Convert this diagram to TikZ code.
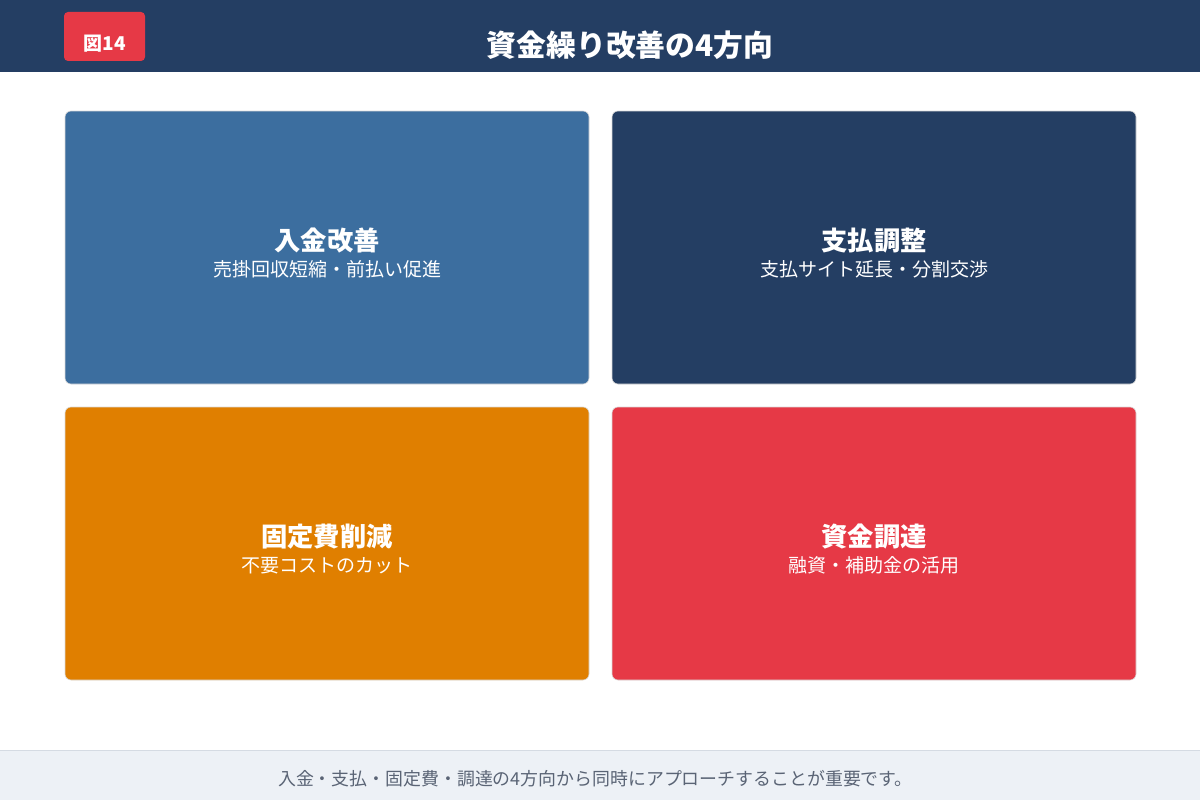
\documentclass[tikz,border=0pt]{standalone}
\usepackage{fontspec}
\setmainfont{Noto Sans CJK JP}
\definecolor{navy}{HTML}{243E63}
\definecolor{steel}{HTML}{3C6E9F}
\definecolor{orng}{HTML}{E07F00}
\definecolor{redc}{HTML}{E63946}
\definecolor{footbg}{HTML}{EDF1F6}
\definecolor{footline}{HTML}{D5DBE3}
\definecolor{foottxt}{HTML}{5A6475}
\tikzset{
  card/.style={draw=black!15, line width=0.6pt, rounded corners=6pt},
  cardtitle/.style={text=white, font=\bfseries\fontsize{26.3}{30}\selectfont},
  cardsub/.style={text=white, font=\fontsize{19}{22}\selectfont},
}
\begin{document}
\begin{tikzpicture}[x=1pt,y=-1pt]
\useasboundingbox (0,0) rectangle (1200,800);
% header
\fill[navy] (0,0) rectangle (1200,72);
\fill[redc, rounded corners=4pt] (64,12) rectangle (145,61);
\node[text=white, font=\bfseries\fontsize{19}{22}\selectfont] (badge) at (104.5,44) {図14};
\node[text=white, font=\bfseries\fontsize{29.8}{34}\selectfont] (title) at (630,45) {資金繰り改善の4方向};
% cards
\path[card, fill=steel] (65,111) rectangle (589,384);
\path[card, fill=navy] (612,111) rectangle (1136,384);
\path[card, fill=orng] (65,407) rectangle (589,680);
\path[card, fill=redc] (612,407) rectangle (1136,680);
\node[cardtitle] (t1) at (327,241) {入金改善};
\node[cardsub] (s1) at (327,269.5) {売掛回収短縮・前払い促進};
\node[cardtitle] (t2) at (874,241) {支払調整};
\node[cardsub] (s2) at (874,269.5) {支払サイト延長・分割交渉};
\node[cardtitle] (t3) at (327,537) {固定費削減};
\node[cardsub] (s3) at (327,565.5) {不要コストのカット};
\node[cardtitle] (t4) at (874,537) {資金調達};
\node[cardsub] (s4) at (874,565.5) {融資・補助金の活用};
% footer
\fill[footbg] (0,750) rectangle (1200,800);
\draw[footline, line width=1pt] (0,750) -- (1200,750);
\node[text=foottxt, font=\fontsize{17.9}{20}\selectfont] (foot) at (595.5,779) {入金・支払・固定費・調達の4方向から同時にアプローチすることが重要です。};
\end{tikzpicture}
\end{document}
